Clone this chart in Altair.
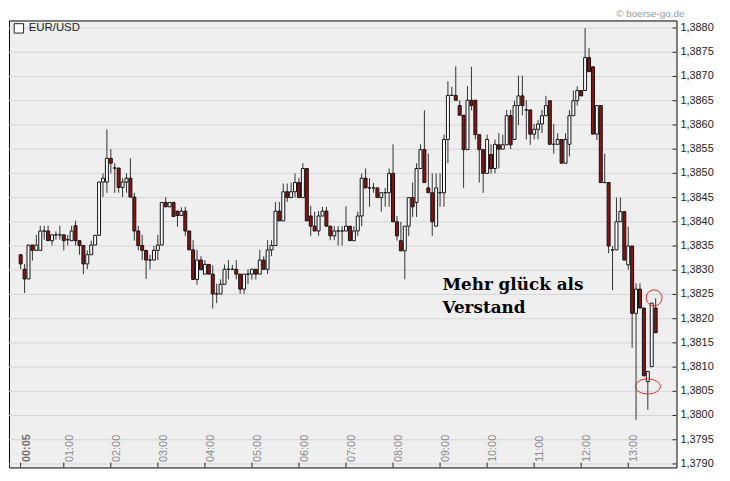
import altair as alt
import pandas as pd

# ---- data (5-minute EUR/USD candles from 00:05) ----
opens = [1.38332,1.38302,1.38282,1.38352,1.38341,1.38341,1.38381,1.38381,1.38361,1.38373,
         1.38373,1.38373,1.38363,1.38361,1.38392,1.38361,1.38351,1.38313,1.38332,1.38352,
         1.38372,1.38482,1.38482,1.38531,1.38511,1.38511,1.38471,1.38482,1.38490,1.38451,
         1.38381,1.38351,1.38341,1.38321,1.38321,1.38341,1.38352,1.38440,1.38431,1.38440,
         1.38422,1.38413,1.38422,1.38381,1.38342,1.38281,1.38321,1.38292,1.38312,1.38292,
         1.38251,1.38251,1.38271,1.38302,1.38302,1.38302,1.38292,1.38261,1.38292,1.38292,
         1.38302,1.38292,1.38321,1.38302,1.38342,1.38351,1.38422,1.38402,1.38462,1.38450,
         1.38462,1.38481,1.38450,1.38510,1.38412,1.38391,1.38381,1.38412,1.38422,1.38391,
         1.38371,1.38381,1.38381,1.38381,1.38391,1.38361,1.38381,1.38412,1.38490,1.38470,
         1.38470,1.38470,1.38450,1.38460,1.38460,1.38500,1.38400,1.38361,1.38340,1.38391,
         1.38450,1.38440,1.38510,1.38549,1.38470,1.38460,1.38391,1.38460,1.38460,1.38570,
         1.38661,1.38661,1.38640,1.38620,1.38549,1.38651,1.38651,1.38580,1.38549,1.38500,
         1.38539,1.38510,1.38559,1.38550,1.38559,1.38619,1.38570,1.38640,1.38660,1.38631,
         1.38631,1.38581,1.38591,1.38602,1.38619,1.38650,1.38560,1.38560,1.38570,1.38521,
         1.38560,1.38619,1.38650,1.38671,1.38671,1.38739,1.38720,1.38581,1.38640,1.38481,
         1.38481,1.38342,1.38342,1.38400,1.38421,1.38311,1.38350,1.38211,1.38261,1.38222,
         1.38070,1.38101,1.38222]
highs = [1.38332,1.38313,1.38352,1.38352,1.38373,1.38392,1.38392,1.38392,1.38373,1.38380,
         1.38392,1.38373,1.38373,1.38392,1.38402,1.38361,1.38351,1.38341,1.38361,1.38372,
         1.38482,1.38500,1.38591,1.38550,1.38521,1.38511,1.38490,1.38500,1.38531,1.38460,
         1.38392,1.38373,1.38341,1.38332,1.38350,1.38373,1.38440,1.38451,1.38440,1.38440,
         1.38422,1.38430,1.38431,1.38381,1.38362,1.38342,1.38329,1.38321,1.38312,1.38310,
         1.38272,1.38281,1.38312,1.38321,1.38311,1.38321,1.38292,1.38292,1.38302,1.38302,
         1.38302,1.38342,1.38329,1.38362,1.38362,1.38441,1.38441,1.38479,1.38479,1.38481,
         1.38500,1.38491,1.38521,1.38510,1.38433,1.38421,1.38422,1.38431,1.38431,1.38391,
         1.38391,1.38391,1.38391,1.38432,1.38391,1.38391,1.38421,1.38500,1.38510,1.38490,
         1.38480,1.38470,1.38460,1.38470,1.38510,1.38560,1.38412,1.38400,1.38391,1.38450,
         1.38481,1.38521,1.38560,1.38630,1.38541,1.38500,1.38500,1.38500,1.38580,1.38690,
         1.38679,1.38721,1.38651,1.38620,1.38680,1.38720,1.38651,1.38580,1.38549,1.38580,
         1.38560,1.38570,1.38583,1.38580,1.38631,1.38631,1.38650,1.38702,1.38702,1.38651,
         1.38631,1.38602,1.38610,1.38631,1.38660,1.38650,1.38602,1.38583,1.38570,1.38583,
         1.38631,1.38671,1.38680,1.38671,1.38800,1.38759,1.38720,1.38640,1.38640,1.38541,
         1.38481,1.38350,1.38450,1.38450,1.38421,1.38390,1.38350,1.38273,1.38273,1.38222,
         1.38091,1.38232,1.38242]
lows = [1.38302,1.38253,1.38282,1.38320,1.38341,1.38341,1.38363,1.38361,1.38351,1.38363,
        1.38363,1.38341,1.38351,1.38361,1.38351,1.38332,1.38292,1.38302,1.38332,1.38352,
        1.38372,1.38451,1.38460,1.38500,1.38460,1.38460,1.38451,1.38460,1.38451,1.38361,
        1.38341,1.38321,1.38282,1.38302,1.38321,1.38321,1.38352,1.38431,1.38431,1.38411,
        1.38390,1.38413,1.38371,1.38342,1.38281,1.38270,1.38301,1.38292,1.38292,1.38221,
        1.38232,1.38251,1.38271,1.38281,1.38302,1.38281,1.38251,1.38251,1.38271,1.38281,
        1.38281,1.38292,1.38302,1.38292,1.38329,1.38351,1.38402,1.38402,1.38441,1.38450,
        1.38450,1.38450,1.38450,1.38402,1.38371,1.38381,1.38371,1.38412,1.38391,1.38362,
        1.38362,1.38351,1.38351,1.38381,1.38361,1.38361,1.38371,1.38391,1.38470,1.38431,
        1.38460,1.38450,1.38421,1.38431,1.38431,1.38400,1.38361,1.38340,1.38281,1.38371,
        1.38410,1.38410,1.38510,1.38481,1.38460,1.38371,1.38391,1.38431,1.38431,1.38521,
        1.38661,1.38651,1.38620,1.38470,1.38549,1.38630,1.38570,1.38481,1.38460,1.38500,
        1.38500,1.38500,1.38510,1.38550,1.38559,1.38550,1.38570,1.38600,1.38620,1.38570,
        1.38559,1.38570,1.38570,1.38583,1.38619,1.38560,1.38541,1.38560,1.38521,1.38521,
        1.38535,1.38619,1.38640,1.38660,1.38671,1.38710,1.38581,1.38569,1.38481,1.38481,
        1.38335,1.38259,1.38342,1.38400,1.38321,1.38301,1.38140,1.37991,1.38222,1.38082,
        1.38012,1.38101,1.38171]
closes = [1.38313,1.38282,1.38352,1.38341,1.38352,1.38381,1.38381,1.38361,1.38373,1.38373,
          1.38373,1.38361,1.38363,1.38381,1.38361,1.38351,1.38313,1.38332,1.38352,1.38372,
          1.38482,1.38490,1.38531,1.38521,1.38511,1.38471,1.38482,1.38490,1.38451,1.38381,
          1.38351,1.38341,1.38321,1.38321,1.38341,1.38352,1.38440,1.38431,1.38440,1.38411,
          1.38413,1.38422,1.38381,1.38342,1.38281,1.38321,1.38301,1.38312,1.38292,1.38251,
          1.38251,1.38271,1.38302,1.38302,1.38302,1.38292,1.38261,1.38292,1.38292,1.38302,
          1.38292,1.38321,1.38302,1.38342,1.38351,1.38422,1.38402,1.38462,1.38450,1.38462,
          1.38481,1.38450,1.38510,1.38402,1.38391,1.38381,1.38412,1.38422,1.38391,1.38371,
          1.38381,1.38381,1.38381,1.38391,1.38361,1.38381,1.38412,1.38490,1.38470,1.38470,
          1.38470,1.38450,1.38460,1.38460,1.38500,1.38400,1.38371,1.38340,1.38391,1.38450,
          1.38431,1.38510,1.38549,1.38481,1.38460,1.38400,1.38470,1.38460,1.38570,1.38661,
          1.38661,1.38651,1.38620,1.38549,1.38651,1.38640,1.38580,1.38549,1.38500,1.38570,
          1.38510,1.38560,1.38550,1.38559,1.38619,1.38559,1.38640,1.38660,1.38640,1.38631,
          1.38581,1.38591,1.38602,1.38619,1.38640,1.38560,1.38560,1.38570,1.38521,1.38570,
          1.38619,1.38650,1.38671,1.38660,1.38739,1.38710,1.38581,1.38640,1.38481,1.38481,
          1.38350,1.38342,1.38400,1.38421,1.38321,1.38350,1.38211,1.38261,1.38222,1.38082,
          1.38091,1.38232,1.38171]
start_minute = 5          # first candle 00:05
step_minutes = 5          # 5-minute candles

hour_labels = ["00:05", "01:00", "02:00", "03:00", "04:00", "05:00", "06:00",
               "07:00", "08:00", "09:00", "10:00", "11:00", "12:00", "13:00"]
y_ticks = [1.3790, 1.3795, 1.3800, 1.3805, 1.3810, 1.3815, 1.3820, 1.3825, 1.3830,
           1.3835, 1.3840, 1.3845, 1.3850, 1.3855, 1.3860, 1.3865, 1.3870, 1.3875, 1.3880]

note_lines = ["Mehr glück als", "Verstand"]
note_time = ["09:03", "09:03"]
note_value = [1.38259, 1.38212]
mark_time = ["13:33", "13:25"]
mark_value = [1.38243, 1.38060]
mark_kind = ["circle", "ellipse"]

# ---- tables ----
def to_min(s):
    h, m = s.split(":")
    return int(h) * 60 + int(m)

n = len(opens)
df = pd.DataFrame({
    "t": [start_minute + step_minutes * i for i in range(n)],
    "open": opens, "high": highs, "low": lows, "close": closes,
})
df["dir"] = ["up" if c >= o else "down" for o, c in zip(opens, closes)]

ticks_df = pd.DataFrame({"label": hour_labels, "t": [to_min(s) for s in hour_labels]})
ylab_df = pd.DataFrame({"v": y_ticks,
                        "label": [f"{v:.4f}".replace(".", ",") for v in y_ticks]})
note_df = pd.DataFrame({"text": note_lines, "t": [to_min(s) for s in note_time], "v": note_value})
marks_df = pd.DataFrame({"t": [to_min(s) for s in mark_time], "v": mark_value, "kind": mark_kind})

W, H = 675, 452
x_dom = [-9.9, 841.6]
y_dom = [1.378928, 1.388157]
xs = alt.Scale(domain=x_dom, nice=False, zero=False, padding=0)
ys = alt.Scale(domain=y_dom, nice=False, zero=False, padding=0)

X = lambda f: alt.X(f, scale=xs, axis=None)
Y = lambda f: alt.Y(f, scale=ys, axis=None)

# horizontal gridlines (one per y tick)
grid = alt.Chart(ylab_df).mark_rule(color="#d6d6d6", strokeWidth=1).encode(
    x=alt.value(0), x2=alt.value(W), y=Y("v:Q"))

# y tick labels on the right, outside the frame
ylabels = alt.Chart(ylab_df).mark_text(
    align="left", baseline="middle", fontSize=11, font="Liberation Sans",
    color="#222222").encode(x=alt.value(W + 4), y=Y("v:Q"), text="label:N")

# small y tick marks just inside the right frame
ytick_rules = alt.Chart(ylab_df).mark_rule(color="#222222").encode(
    x=alt.value(W - 4), x2=alt.value(W), y=Y("v:Q"))

base = alt.Chart(df)

wicks = base.mark_rule(color="#333333", strokeWidth=1).encode(
    x=X("t:Q"), y=Y("low:Q"), y2="high:Q")

bodies = base.mark_bar(size=3, stroke="#111111", strokeWidth=1).encode(
    x=X("t:Q"),
    y=Y("open:Q"),
    y2="close:Q",
    color=alt.Color("dir:N", scale=alt.Scale(domain=["up", "down"], range=["#ffffff", "#8e1111"]),
                    legend=None),
)

xtick_rules = alt.Chart(ticks_df).mark_rule(color="#222222").encode(
    x=X("t:Q"),
    y=alt.datum(y_dom[0], scale=ys, axis=None),
    y2=alt.datum(y_dom[0] + 0.0001),
)

xlabels = alt.Chart(ticks_df).transform_filter("datum.label != '00:05'").mark_text(
    angle=270, align="left", baseline="middle", dx=2, dy=6, fontSize=11,
    font="Liberation Sans", color="#8a8a8a").encode(
    x=X("t:Q"), y=alt.datum(1.3790, scale=ys, axis=None), text="label:N")

xlabel0 = alt.Chart(ticks_df).transform_filter("datum.label == '00:05'").mark_text(
    angle=270, align="left", baseline="middle", dx=2, dy=6, fontSize=11, fontWeight="bold",
    font="Liberation Sans", color="#6e6e6e").encode(
    x=X("t:Q"), y=alt.datum(1.3790, scale=ys, axis=None), text="label:N")

note = alt.Chart(note_df).mark_text(
    align="left", baseline="alphabetic", font="DejaVu Serif", fontWeight="bold",
    fontSize=17, color="#000000").encode(
    x=X("t:Q"), y=Y("v:Q"), text="text:N")

circle = alt.Chart(marks_df).transform_filter("datum.kind == 'circle'").mark_point(
    shape="circle", size=260, filled=False, color="#e02a2a", strokeWidth=1, opacity=1).encode(
    x=X("t:Q"), y=Y("v:Q"))

ellipse = alt.Chart(marks_df).transform_filter("datum.kind == 'ellipse'").mark_point(
    shape="M-1,0A1,0.6,0,1,1,1,0A1,0.6,0,1,1,-1,0Z", size=640, filled=False,
    color="#e02a2a", strokeWidth=1, opacity=1).encode(
    x=X("t:Q"), y=Y("v:Q"))

legend_box = alt.Chart(pd.DataFrame({"s": ["EUR/USD"]})).mark_point(
    shape="square", size=90, filled=True, fill="#ffffff", stroke="#222222",
    strokeWidth=1, opacity=1).encode(x=alt.value(10), y=alt.value(8))
legend_txt = alt.Chart(pd.DataFrame({"s": ["EUR/USD"]})).mark_text(
    align="left", baseline="middle", fontSize=11.5, font="Liberation Sans",
    color="#222222").encode(x=alt.value(20), y=alt.value(8), text="s:N")
copyright_txt = alt.Chart(pd.DataFrame({"s": ["© boerse-go.de"]})).mark_text(
    align="right", baseline="middle", fontSize=10, font="Liberation Sans",
    color="#9a9a9a").encode(x=alt.value(W + 8), y=alt.value(-6), text="s:N")

chart = alt.layer(
    grid, wicks, bodies, xtick_rules, xlabels, xlabel0, ytick_rules, ylabels,
    note, circle, ellipse, legend_box, legend_txt, copyright_txt,
).properties(
    width=W, height=H,
    autosize=alt.AutoSizeParams(type="none"),
    padding={"left": 1, "top": 10, "right": 46, "bottom": 2},
    background="#ffffff",
).configure_view(
    fill="#efefef", stroke="#000000", strokeWidth=1,
)

chart.save("out.html", embed_options={"renderer": "svg", "actions": False})
